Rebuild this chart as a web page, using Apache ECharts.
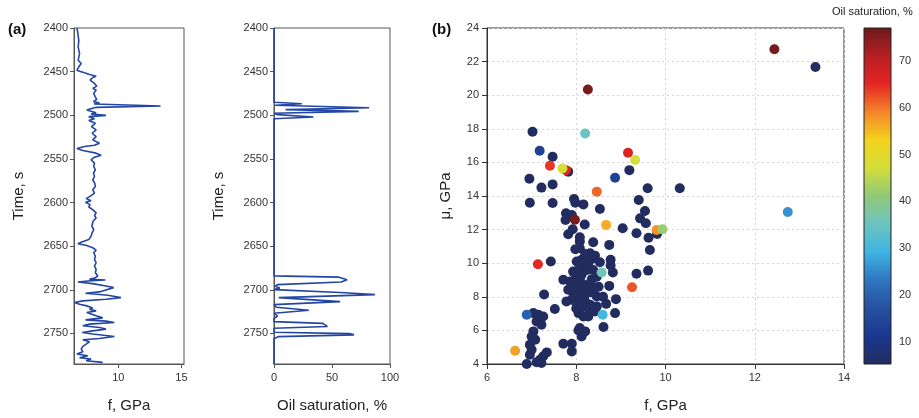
<!DOCTYPE html>
<html><head><meta charset="utf-8">
<script src="https://cdn.jsdelivr.net/npm/echarts@6/dist/echarts.min.js"></script>
<style>html,body{margin:0;padding:0;background:#fff}#c{width:919px;height:418px}</style>
</head><body><div id="c"></div>
<script>
// Panel (a) left: f (GPa) vs time (s)
const fTime = [2400,2406.5,2414.1,2421.7,2429.3,2436.9,2440.7,2444.5,2448.3,2449.5,2451.4,2452.9,2455.2,2456.7,2459.7,2463.5,2466.6,2469.2,2471.1,2474.9,2478.7,2481.8,2484.5,2485.6,2487.1,2489.4,2490.9,2494.0,2497.0,2498.5,2500.1,2501.6,2503.9,2506.1,2509.2,2513.0,2516.8,2520.6,2524.4,2528.2,2532.0,2534.3,2535.8,2538.1,2540.4,2543.4,2545.7,2548.0,2551.0,2554.8,2558.6,2562.4,2566.2,2570.0,2573.9,2577.7,2581.5,2585.3,2589.1,2592.9,2595.5,2597.8,2599.7,2602.4,2605.1,2608.1,2611.9,2614.9,2617.6,2621.4,2627.1,2630.9,2634.7,2638.5,2642.3,2645.4,2647.3,2649.2,2651.8,2654.5,2657.5,2661.4,2665.2,2669.0,2672.8,2676.6,2680.4,2684.2,2686.1,2688.0,2688.7,2689.9,2691.0,2692.9,2695.6,2697.5,2699.4,2702.4,2704.0,2706.2,2708.9,2710.8,2712.7,2714.6,2716.5,2718.4,2720.7,2722.2,2724.1,2726.0,2727.9,2729.8,2732.1,2734.4,2735.9,2737.4,2739.3,2741.2,2743.1,2745.0,2747.0,2748.9,2750.7,2753.4,2755.7,2757.2,2759.5,2762.2,2764.8,2767.9,2770.9,2773.6,2775.5,2777.8,2779.3,2781.2,2783.1];
const fValues = [6.73,6.81,6.88,6.83,6.94,6.83,7.07,6.88,6.73,6.94,7.33,7.67,8.25,7.98,7.77,8.12,8.30,7.98,8.25,8.06,8.17,8.30,8.04,8.51,8.09,13.35,8.25,7.51,8.25,7.85,9.03,7.67,8.12,7.67,8.19,7.88,8.25,7.93,8.25,7.98,8.51,8.12,7.33,6.73,7.20,8.25,8.64,8.12,7.85,8.12,8.06,8.19,8.04,8.12,7.98,8.14,8.19,7.98,8.12,7.77,7.46,7.85,7.41,7.77,7.67,7.98,8.25,8.12,8.25,8.01,7.91,8.06,7.93,7.85,7.67,7.07,6.81,7.51,7.98,8.25,8.06,8.19,8.12,8.25,8.12,8.25,8.19,8.38,8.19,7.72,8.98,7.59,6.81,7.98,9.03,9.63,9.71,8.51,7.41,9.16,10.21,9.03,7.20,6.54,6.94,7.51,7.98,7.72,8.25,7.51,7.51,8.25,8.77,7.41,9.03,9.69,7.72,7.20,8.51,9.03,7.98,7.15,7.98,9.69,8.51,7.20,7.72,7.46,7.20,7.07,7.20,6.73,7.59,6.94,7.85,7.46,8.77];

// Panel (a) right: oil saturation (%) vs time (s)
const oilTime = [2400,2485,2486.8,2488.5,2491.3,2493.5,2495.5,2497.6,2499.3,2502,2504,2684,2685.5,2688.5,2691,2694,2696,2698,2699.8,2703,2705.5,2709,2713.5,2717,2720,2723.5,2726.8,2730,2733,2736.5,2738.5,2742,2744,2748.6,2750.2,2751.6,2753.6,2756,2785];
const oilValues = [0,0,24,1,82,10,73,0,3,34,0,0,56,63,58,3,1,5,0,57,87,4,57,0,2,30,0,3,0,0,42,46,0,0,65,69,4,0,0];

// Panel (b): mu vs f coloured by oil saturation
const scatF =   [13.36,7.02,7.47,7.82,9.19,6.95,7.22,7.47,9.60,10.32,6.96,7.47,7.95,8.16,7.98,9.40,8.53,9.54,7.77,7.90,7.76,8.19,9.43,9.56,9.04,9.81,9.35,7.92,7.82,8.08,9.62,8.38,8.08,8.74,9.65,7.98,8.08,7.43,8.77,8.77,8.82,9.35,9.61,8.74,7.28,8.89,8.67,7.52,8.87,8.61,6.89,7.71,7.90,7.90,
  8.31,8.27,8.20,8.01,8.53,8.08,8.27,8.38,8.12,7.93,7.71,7.86,7.97,8.08,8.16,8.31,7.82,7.93,8.08,8.20,8.35,8.46,7.90,8.01,8.20,8.31,8.46,8.05,8.16,8.27,8.42,7.04,7.15,7.26,7.11,7.22,8.08,8.20,7.04,7.00,7.08,6.96,7.00,6.96,7.34,7.26,7.19,7.22,7.11,8.12,8.05,7.78,
  8.12,8.35,8.42,8.24,8.46,8.00,8.35,8.50,8.20,8.40,7.95,8.10,8.30,8.00,8.15,8.60,
  7.77,12.44,8.26,8.20,7.18,9.16,9.32,7.41,7.69,8.87,8.46,12.74,7.97,8.67,9.80,9.93,7.14,8.57,9.25,6.89,8.59,6.63];
const scatMu =  [21.68,17.82,16.34,15.45,15.54,15.03,14.50,14.69,14.46,14.46,13.60,13.58,13.82,13.50,13.60,13.76,13.23,13.11,12.97,12.87,12.57,12.30,12.67,12.38,12.08,11.74,11.78,12.02,11.72,11.54,11.52,11.25,11.29,11.09,10.79,10.83,10.89,10.10,10.20,9.86,9.45,9.37,9.56,8.65,8.14,7.86,7.58,7.27,7.03,6.20,4.00,5.21,5.21,4.75,
  10.59,10.40,10.55,10.10,10.06,9.80,9.90,9.60,9.31,9.50,9.01,8.91,8.71,9.01,8.71,8.81,8.42,8.22,8.32,8.12,8.26,8.02,7.82,7.62,7.72,7.52,7.43,7.03,6.83,6.83,7.13,7.03,6.93,6.83,6.53,6.34,6.14,5.94,5.94,5.64,5.45,5.15,4.85,4.55,4.69,4.46,4.26,4.06,4.10,5.64,6.00,7.72,
  10.20,10.25,10.45,9.60,9.20,9.20,9.05,8.60,8.50,8.50,8.00,7.90,7.20,7.30,7.40,8.00,
  15.54,22.73,20.34,17.72,16.69,16.57,16.14,15.80,15.64,15.09,14.26,13.05,12.59,12.28,11.98,12.02,9.94,9.45,8.57,6.93,6.93,4.79];
const scatOil = [5,5,5,5,5,5,5,5,5,5,5,5,5,5,5,5,5,5,5,5,5,5,5,5,5,5,5,5,5,5,5,5,5,5,5,5,5,5,5,5,5,5,5,5,5,5,5,5,5,5,5,5,5,5,
  5,5,5,5,5,5,5,5,5,5,5,5,5,5,5,5,5,5,5,5,5,5,5,5,5,5,5,5,5,5,5,5,5,5,5,5,5,5,5,5,5,5,5,5,5,5,5,5,5,5,5,5,
  5,5,5,5,5,5,5,5,5,5,5,5,5,5,5,5,
  66,76,76,35,14,66,47,64,47,14,61,26,76,56,58,42,65,36,62,20,30,57];

// Colour scale
const cbMin = 5.3, cbMax = 77;
const cbColors = ['#232c5f','#1a3790','#26509f','#2f76c0','#3fb4e2','#6cc4c0','#90c878','#d4de3a','#f4d21e','#f3852a','#e42522','#b51f24','#6b1a1c'];
const cbTicks = [10,20,30,40,50,60,70];
const timeTicks = [2400,2450,2500,2550,2600,2650,2700,2750];

const FONT = 'Liberation Sans';
const lineData = fValues.map((v,i)=>[v,fTime[i]]);
const oilData = oilValues.map((v,i)=>[v,oilTime[i]]);
const scatData = scatF.map((v,i)=>[v,scatMu[i],scatOil[i]]);

const plain = (v)=>String(v);
const lbl = {color:'#333', fontSize:11, fontFamily:FONT, formatter:plain};
const axLine = {show:true, lineStyle:{color:'#555', width:1}};
const tick = (vals)=>({show:true, inside:false, length:4, lineStyle:{color:'#555'}, customValues: vals});
const nameStyle = {color:'#222', fontSize:15, fontFamily:FONT};

const chart = echarts.init(document.getElementById('c'), null, {renderer:'canvas'});
chart.setOption({
  animation:false,
  backgroundColor:'#fff',
  textStyle:{fontFamily:FONT},
  grid:[
    {left:74, top:28, width:110, height:336, show:true, borderColor:'#555', borderWidth:1},
    {left:274, top:28, width:116, height:336, show:true, borderColor:'#555', borderWidth:1},
    {left:487, top:28, width:357, height:336, show:true, borderColor:'#333', borderWidth:1},
    {left:864, top:28, width:27, height:336, show:false}
  ],
  xAxis:[
    {gridIndex:0, type:'value', min:6.5, max:15.2, axisLine:axLine, axisTick:tick([10,15]), axisLabel:Object.assign({customValues:[10,15], margin:8},lbl), splitLine:{show:false},
     name:'f, GPa', nameLocation:'middle', nameGap:34, nameTextStyle:nameStyle},
    {gridIndex:1, type:'value', min:0, max:100, interval:50, axisLine:axLine, axisTick:tick([0,50,100]), axisLabel:Object.assign({margin:8},lbl), splitLine:{show:false},
     name:'Oil saturation, %', nameLocation:'middle', nameGap:34, nameTextStyle:nameStyle},
    {gridIndex:2, type:'value', min:6, max:14, interval:2, axisLine:{show:true,lineStyle:{color:'#333'}}, axisTick:{show:true,inside:false,length:5,lineStyle:{color:'#333'}}, axisLabel:Object.assign({margin:8},lbl),
     splitLine:{show:true, lineStyle:{color:'#d4d4d4', type:[2,3], width:1}},
     name:'f, GPa', nameLocation:'middle', nameGap:34, nameTextStyle:nameStyle},
    {gridIndex:3, type:'value', min:0, max:1, show:false}
  ],
  yAxis:[
    {gridIndex:0, type:'value', inverse:true, min:2400, max:2785, axisLine:axLine, axisTick:tick(timeTicks), axisLabel:Object.assign({customValues:timeTicks, margin:6},lbl), splitLine:{show:false},
     name:'Time, s', nameLocation:'middle', nameGap:48, nameTextStyle:nameStyle},
    {gridIndex:1, type:'value', inverse:true, min:2400, max:2785, axisLine:axLine, axisTick:tick(timeTicks), axisLabel:Object.assign({customValues:timeTicks, margin:6},lbl), splitLine:{show:false},
     name:'Time, s', nameLocation:'middle', nameGap:48, nameTextStyle:nameStyle},
    {gridIndex:2, type:'value', min:4, max:24, interval:2, axisLine:{show:true,lineStyle:{color:'#333'}}, axisTick:{show:true,inside:false,length:5,lineStyle:{color:'#333'}}, axisLabel:Object.assign({margin:8},lbl),
     splitLine:{show:true, lineStyle:{color:'#d4d4d4', type:[2,3], width:1}},
     name:'\u03bc, GPa', nameLocation:'middle', nameGap:34, nameTextStyle:nameStyle},
    {gridIndex:3, type:'value', position:'right', min:cbMin, max:cbMax, axisLine:{show:false}, axisTick:{show:true, inside:false, length:5, lineStyle:{color:'#333'}, customValues:cbTicks},
     axisLabel:Object.assign({customValues:cbTicks, margin:8},lbl), splitLine:{show:false}}
  ],
  visualMap:{type:'continuous', show:false, min:cbMin, max:cbMax, dimension:2, seriesIndex:2, inRange:{color:cbColors}},
  series:[
    {type:'line', xAxisIndex:0, yAxisIndex:0, data:lineData, showSymbol:false, symbol:'none', lineStyle:{color:'#2346a3', width:1.6}, smooth:false},
    {type:'line', xAxisIndex:1, yAxisIndex:1, data:oilData, showSymbol:false, symbol:'none', lineStyle:{color:'#2346a3', width:1.6}, smooth:false},
    {type:'scatter', xAxisIndex:2, yAxisIndex:2, data:scatData, symbol:'circle', symbolSize:10, itemStyle:{opacity:1}}
  ],
  graphic:[
    {type:'rect', shape:{x:864, y:28, width:27, height:336}, style:{fill:new echarts.graphic.LinearGradient(0,0,0,1, cbColors.slice().reverse().map((c,i,a)=>({offset:i/(a.length-1), color:c}))), stroke:'#222', lineWidth:1}, z:10},
    {type:'text', x:832, y:6, style:{text:'Oil saturation, %', fill:'#222', fontSize:11, fontFamily:FONT}},
    {type:'text', x:8, y:22, style:{text:'(a)', fill:'#111', fontSize:15, fontWeight:'bold', fontFamily:FONT}},
    {type:'text', x:432, y:22, style:{text:'(b)', fill:'#111', fontSize:15, fontWeight:'bold', fontFamily:FONT}}
  ]
});
</script></body></html>
